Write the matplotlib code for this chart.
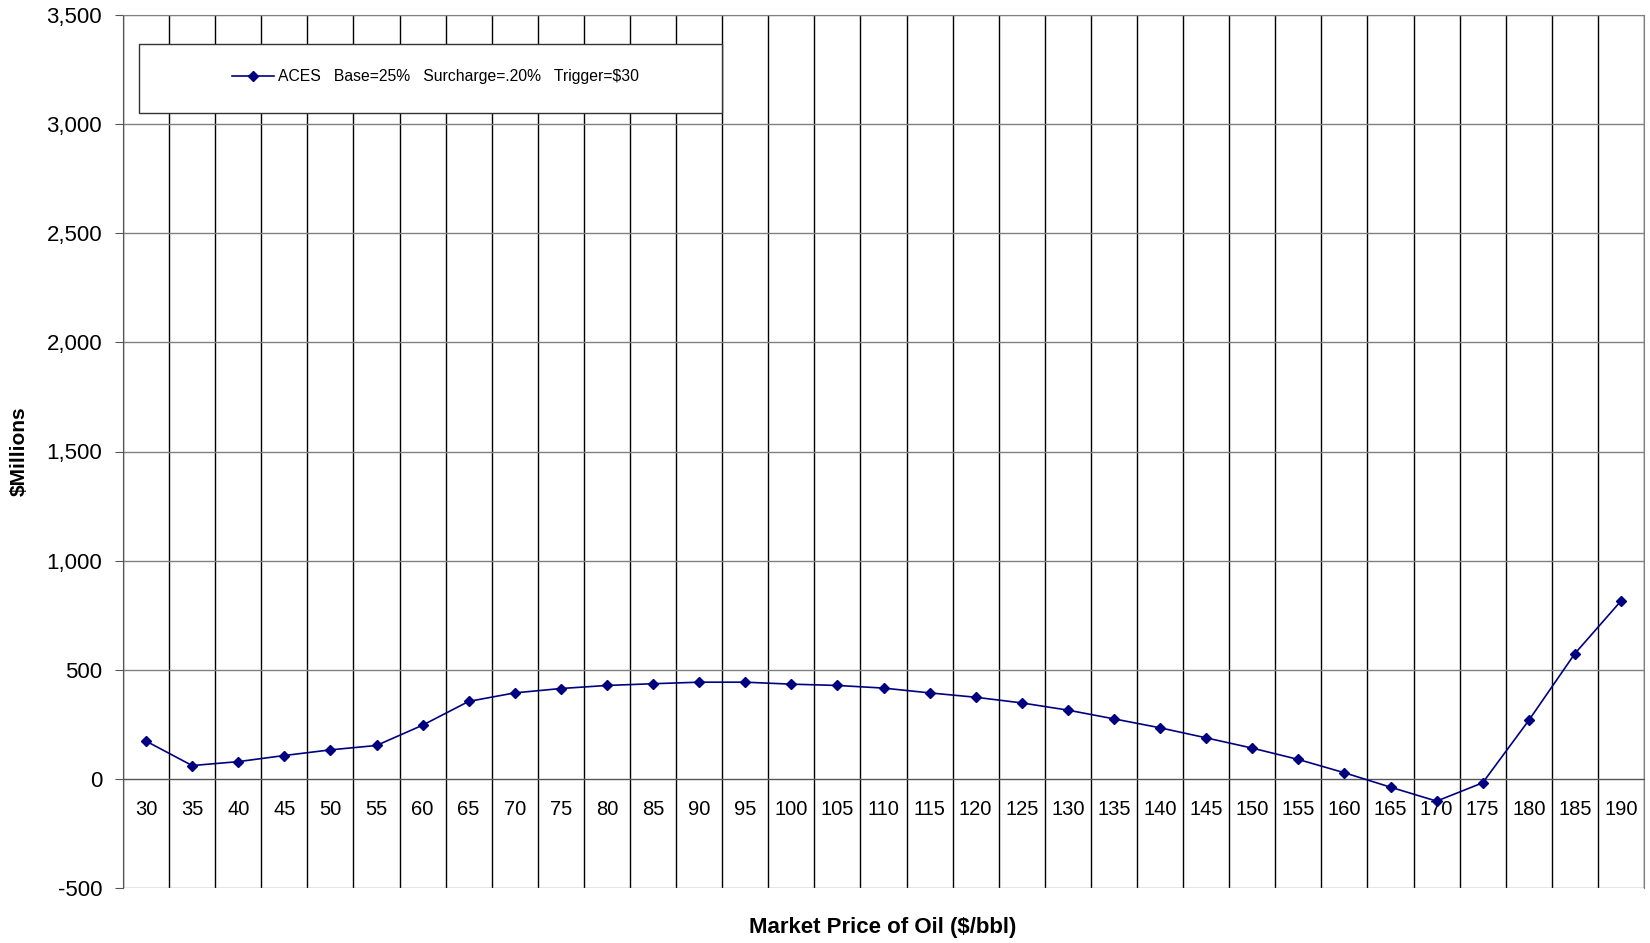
import matplotlib
matplotlib.use("Agg")
from matplotlib import pyplot as plt
from matplotlib.patches import Rectangle

plt.rcParams['font.family'] = ['Liberation Sans', 'DejaVu Sans']

# market price of oil ($/bbl)
prices = [30, 35, 40, 45, 50, 55, 60, 65, 70, 75, 80, 85, 90, 95, 100, 105, 110,
          115, 120, 125, 130, 135, 140, 145, 150, 155, 160, 165, 170, 175, 180, 185, 190]
# ACES revenue, $ millions
aces = [173, 61, 79, 107, 133, 153, 246, 355, 394, 414, 428, 436, 443, 443, 434, 428, 416,
        394, 374, 348, 315, 275, 234, 188, 141, 89, 28, -38, -102, -18, 268, 574, 815]
series_label = "ACES   Base=25%   Surcharge=.20%   Trigger=$30"
y_ticks = list(range(-500, 3501, 500))

fig = plt.figure(figsize=(16.5, 9.43), dpi=100)
ax = fig.add_axes([123 / 1650, 1 - 888 / 943, 1521 / 1650, 873 / 943])

idx = list(range(len(prices)))
ax.plot(idx, aces, color='#000080', lw=1.2, marker='D', markersize=5.5,
        label=series_label, zorder=5)

ax.set_xlim(-0.5, len(prices) - 0.5)
ax.set_ylim(-500, 3500)
ax.set_yticks(y_ticks)
ax.set_yticklabels([f"{v:,}" for v in y_ticks])
ax.set_xticks(idx)
ax.set_xticklabels([str(p) for p in prices])
ax.set_xticks([i - 0.5 for i in idx] + [len(prices) - 0.5], minor=True)

# gridlines: horizontal gray, vertical at category boundaries
ax.grid(axis='y', which='major', color='#808080', lw=1.0)
ax.grid(axis='x', which='minor', color='black', lw=1.0)
ax.set_axisbelow(True)

ax.spines['bottom'].set_position(('data', 0))
ax.spines['bottom'].set_color('#555555')
for s in ['top', 'right']:
    ax.spines[s].set_color('#808080')
ax.spines['left'].set_color('#555555')

ax.tick_params(axis='x', which='both', length=0, pad=15, labelsize=14.5)
ax.tick_params(axis='y', length=6, pad=9, color='#555555', labelsize=16)

# legend box
ax.add_patch(Rectangle((16 / 1521, (888 - 113) / 873), (722 - 139) / 1521, 69 / 873,
                       transform=ax.transAxes, facecolor='white', edgecolor='#333333',
                       lw=1.0, zorder=6))
ax.legend(loc='center left', bbox_to_anchor=((232 - 123) / 1521, (888 - 77) / 873),
          frameon=False, fontsize=11.3, handlelength=2.7, handletextpad=0.2,
          borderaxespad=0, borderpad=0).set_zorder(7)

fig.text(19 / 1650, 1 - 451 / 943, "$Millions", rotation=90, ha='center', va='center',
         fontsize=15, fontweight='bold')
fig.text(883 / 1650, 1 - 928 / 943, "Market Price of Oil ($/bbl)", ha='center', va='center',
         fontsize=16, fontweight='bold')

fig.savefig("out.png", dpi=100)
